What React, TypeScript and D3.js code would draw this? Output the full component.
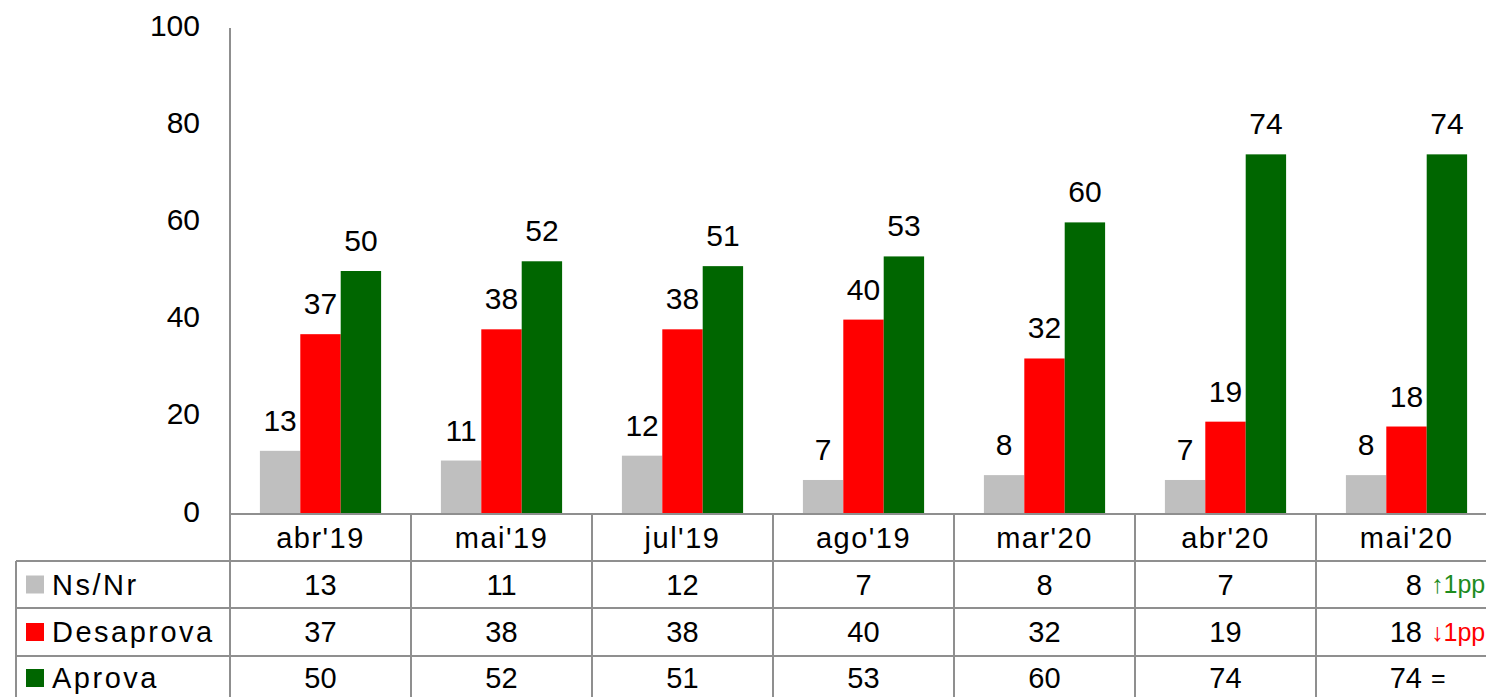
import React from "react";
import * as d3 from "d3";

const categories = ["abr'19", "mai'19", "jul'19", "ago'19", "mar'20", "abr'20", "mai'20"];
const seriesNames = ["Ns/Nr", "Desaprova", "Aprova"];
const nsNr = [13, 11, 12, 7, 8, 7, 8];
const desaprova = [37, 38, 38, 40, 32, 19, 18];
const aprova = [50, 52, 51, 53, 60, 74, 74];
const seriesColors = ["#bfbfbf", "#ff0000", "#006600"];
const lastChanges = ["↑1pp", "↓1pp", "="];
const changeColors = ["#1e8c1e", "#ff0000", "#000000"];
const yTicks = [0, 20, 40, 60, 80, 100];

const W = 1486;
const H = 697;
const FONT = "'Liberation Sans', Arial, sans-serif";

export default function App() {
  const seriesValues = [nsNr, desaprova, aprova];
  const plotLeft = 230;
  const colW = 181;
  const x = d3.scaleBand<string>().domain(categories).range([plotLeft, plotLeft + colW * categories.length]).padding(0);
  const x1 = d3.scaleBand<string>().domain(seriesNames).range([0, x.bandwidth()]).paddingInner(0).paddingOuter(0.74);
  const y = d3.scaleLinear().domain([0, 100]).range([514, 28]);

  const tableTop = y(0);
  const headerBottom = 561;
  const rowBottoms = [608, 656, 704];
  const rowTops = [headerBottom, 608, 656];
  const tableLeft = 16;
  const lineColor = "#8f8f8f";

  return (
    <svg width={W} height={H} style={{ position: "absolute", left: 0, top: 0, background: "#fff" }} fontFamily={FONT}>
      {/* y axis */}
      <line x1={plotLeft} x2={plotLeft} y1={y(100)} y2={y(0)} stroke={lineColor} strokeWidth={2} />
      {yTicks.map((t) => (
        <text key={t} x={200} y={y(t)} dy="0.25em" textAnchor="end" fontSize={30} fill="#000">
          {t}
        </text>
      ))}
      {/* bars */}
      {categories.map((c, i) => (
        <g key={c} transform={`translate(${x(c)},0)`}>
          {seriesNames.map((s, k) => {
            const v = seriesValues[k][i];
            const bx = x1(s)!;
            const bw = x1.bandwidth();
            return (
              <g key={s}>
                <rect x={bx} y={y(v)} width={bw} height={y(0) - y(v)} fill={seriesColors[k]} />
                <text x={bx + bw / 2} y={y(v) - 20} textAnchor="middle" fontSize={30} fill="#000">
                  {v}
                </text>
              </g>
            );
          })}
        </g>
      ))}
      {/* table lines */}
      <line x1={plotLeft} x2={W} y1={tableTop} y2={tableTop} stroke={lineColor} strokeWidth={2} />
      <line x1={tableLeft} x2={W} y1={headerBottom} y2={headerBottom} stroke={lineColor} strokeWidth={2} />
      {rowBottoms.slice(0, 2).map((yy) => (
        <line key={yy} x1={tableLeft} x2={W} y1={yy} y2={yy} stroke={lineColor} strokeWidth={2} />
      ))}
      <line x1={tableLeft} x2={tableLeft} y1={headerBottom} y2={H} stroke={lineColor} strokeWidth={2} />
      {categories.map((c) => (
        <line key={c} x1={x(c)!} x2={x(c)!} y1={tableTop} y2={H} stroke={lineColor} strokeWidth={2} />
      ))}
      {/* header */}
      {categories.map((c) => (
        <text key={c} x={x(c)! + x.bandwidth() / 2} y={(tableTop + headerBottom) / 2} dy="0.35em" textAnchor="middle" fontSize={29} letterSpacing={1.5} fill="#000">
          {c}
        </text>
      ))}
      {/* rows */}
      {seriesNames.map((s, k) => {
        const cy = k === 2 ? 678 : (rowTops[k] + rowBottoms[k]) / 2;
        return (
          <g key={s}>
            <rect x={26} y={cy - 9} width={18} height={18} fill={seriesColors[k]} />
            <text x={52} y={cy} dy="0.35em" fontSize={29} letterSpacing={2.5} fill="#000">
              {s}
            </text>
            {categories.map((c, i) => {
              const isLast = i === categories.length - 1;
              const v = seriesValues[k][i];
              if (!isLast) {
                return (
                  <text key={c} x={x(c)! + x.bandwidth() / 2} y={cy} dy="0.35em" textAnchor="middle" fontSize={29} fill="#000">
                    {v}
                  </text>
                );
              }
              return (
                <g key={c}>
                  <text x={x(c)! + 106} y={cy} dy="0.35em" textAnchor="end" fontSize={29} fill="#000">
                    {v}
                  </text>
                  <text x={x(c)! + 115} y={cy} dy="0.35em" textAnchor="start" fontSize={25} fill={changeColors[k]}>
                    {lastChanges[k]}
                  </text>
                </g>
              );
            })}
          </g>
        );
      })}
    </svg>
  );
}
